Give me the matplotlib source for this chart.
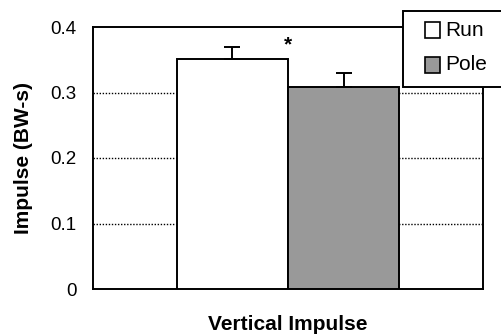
import matplotlib
matplotlib.use('Agg')
import matplotlib.pyplot as plt
from matplotlib.patches import Rectangle

plt.rcParams['font.family'] = ['Liberation Sans', 'DejaVu Sans']

groups = ['Run', 'Pole']
values = [0.351, 0.308]
errors = [0.018, 0.022]
colors = ['white', '#999999']
yticks = [0, 0.1, 0.2, 0.3, 0.4]
ytick_labels = ['0', '0.1', '0.2', '0.3', '0.4']
star_y = 0.372

W, H = 501, 335
fig = plt.figure(figsize=(W / 100, H / 100), dpi=100)
ax = fig.add_axes([93 / W, 1 - 289 / H, 390 / W, 262 / H])

width = 0.285
positions = [0.5 - width / 2, 0.5 + width / 2]
ax.bar(positions, values, width=width, color=colors, edgecolor='black',
       linewidth=1.4, zorder=3,
       yerr=[[0, 0], errors],
       error_kw=dict(ecolor='black', elinewidth=1.4, capsize=5.5, capthick=1.4, zorder=4))

# significance marker
ax.text(positions[0] + width / 2, star_y, '*', ha='center', va='center',
        fontsize=15, fontweight='bold')

ax.set_xlim(0, 1)
ax.set_ylim(0, 0.4)
ax.set_yticks(yticks)
ax.set_yticklabels(ytick_labels, fontsize=13.5)
ax.set_xticks([])
ax.tick_params(axis='y', length=0, pad=12)
for y in yticks[1:4]:
    ax.axhline(y, color='black', linestyle=(0, (1, 1.2)), linewidth=1.0, zorder=1)

for s in ax.spines.values():
    s.set_linewidth(1.4)

ax.set_ylabel('Impulse (BW-s)', fontsize=15, fontweight='bold')
ax.set_xlabel('Vertical Impulse', fontsize=15, fontweight='bold')
ax.yaxis.set_label_coords(-0.155, 0.5)
ax.xaxis.set_label_coords(0.5, -0.10)

# legend box drawn by hand, it runs off the right edge like the original
def fx(px):
    return px / W

def fy(py):
    return 1 - py / H

frame = Rectangle((fx(403), fy(87)), 0.3, (87 - 11) / H, transform=fig.transFigure,
                  facecolor='white', edgecolor='black', linewidth=1.4, zorder=10,
                  clip_on=False)
fig.patches.append(frame)
row_y = [30, 65]
for lab, col, ry in zip(groups, colors, row_y):
    sq = Rectangle((fx(425), fy(ry + 7.5)), 15 / W, 15 / H, transform=fig.transFigure,
                   facecolor=col, edgecolor='black', linewidth=1.2, zorder=11)
    fig.patches.append(sq)
    fig.text(fx(445), fy(ry), lab, ha='left', va='center', fontsize=15, zorder=12)

fig.savefig('out.png', dpi=100)
